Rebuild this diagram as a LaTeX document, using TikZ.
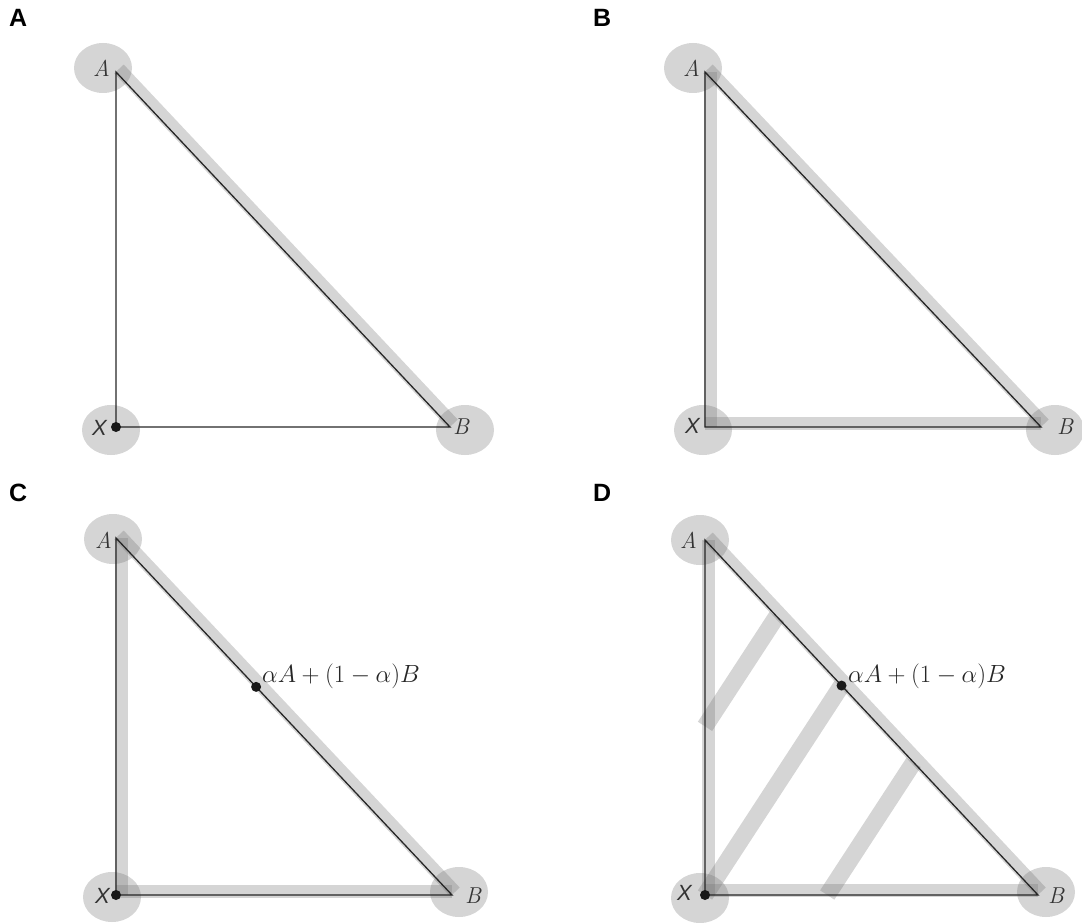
\documentclass[tikz,border=0pt]{standalone}
\usepackage{fontspec}
\setsansfont{Liberation Sans}
\usetikzlibrary{calc}
\begin{document}
\begin{tikzpicture}[x=1pt,y=-1pt,
  edge/.style={draw=black!85, line width=1.3pt},
  band/.style={draw=black!55, draw opacity=0.3, line width=13pt},
  wideband/.style={draw=black!55, draw opacity=0.3, line width=17pt},
  halo/.style={fill=black!55, fill opacity=0.3, draw=none},
  dot/.style={circle, fill=black!90, inner sep=0pt, minimum size=10pt},
  vlab/.style={font=\fontsize{23}{27}\selectfont\itshape, inner sep=0pt, text=black!80},
  mlab/.style={font=\fontsize{24.88}{29}\selectfont, inner sep=0pt, text=black!85, anchor=base west},
  xlab/.style={font=\fontsize{22}{26}\selectfont\sffamily\itshape, inner sep=0pt, text=black!80},
  plab/.style={font=\fontsize{25}{29}\selectfont\sffamily\bfseries, inner sep=0pt, anchor=base west},
]
\useasboundingbox (0,0) rectangle (1082,923);

% ---------- Panel A ----------
\node[plab] (labA) at (9,27) {A};
\coordinate (aA) at (116,72);
\coordinate (aX) at (116,427);
\coordinate (aB) at (450,427);
\fill[halo] (103,68) ellipse [x radius=29, y radius=25];
\fill[halo] (111,430) ellipse [x radius=29, y radius=25];
\fill[halo] (465,430) ellipse [x radius=29, y radius=25];
\draw[band] ([shift={(3,-3)}]aA) -- ([shift={(3,-3)}]aB);
\draw[edge] (aA) -- (aX) -- (aB) -- cycle;
\node[dot] (aXd) at (aX) {};
\node[vlab, anchor=base east] (aAl) at (110,77) {A};
\node[xlab, anchor=base east] (aXl) at (107,435) {X};
\node[vlab, anchor=base west] (aBl) at (453,434) {B};

% ---------- Panel B ----------
\node[plab] (labB) at (593,27) {B};
\coordinate (bA) at (705,72);
\coordinate (bX) at (705,427);
\coordinate (bB) at (1041,427);
\fill[halo] (693,68) ellipse [x radius=29, y radius=25];
\fill[halo] (703,430) ellipse [x radius=29, y radius=25];
\fill[halo] (1055,430) ellipse [x radius=29, y radius=25];
\draw[band] ([shift={(3,-3)}]bA) -- ([shift={(3,-3)}]bB);
\draw[band] ([shift={(5,0)}]bA) -- ([shift={(5,0)}]bX);
\draw[band] ([shift={(0,-4)}]bX) -- ([shift={(0,-4)}]bB);
\draw[edge] (bA) -- (bX) -- (bB) -- cycle;
\node[vlab, anchor=base east] (bAl) at (700,77) {A};
\node[xlab, anchor=base east] (bXl) at (700,433) {X};
\node[vlab, anchor=base west] (bBl) at (1057,434) {B};

% ---------- Panel C ----------
\node[plab] (labC) at (9,501) {C};
\coordinate (cA) at (116,538);
\coordinate (cX) at (116,895);
\coordinate (cB) at (452,895);
\coordinate (cP) at ($(cA)!0.417!(cB)$);
\fill[halo] (113,539) ellipse [x radius=29, y radius=25];
\fill[halo] (112,897) ellipse [x radius=29, y radius=25];
\fill[halo] (459,892) ellipse [x radius=29, y radius=25];
\draw[band] ([shift={(3,-3)}]cA) -- ([shift={(3,-3)}]cB);
\draw[band] ([shift={(5,0)}]cA) -- ([shift={(5,0)}]cX);
\draw[band] ([shift={(0,-4)}]cX) -- ([shift={(0,-4)}]cB);
\draw[edge] (cA) -- (cX) -- (cB) -- cycle;
\node[dot] (cXd) at (cX) {};
\node[dot] (cPd) at (cP) {};
\node[vlab, anchor=base east] (cAl) at (112,548) {A};
\node[xlab, anchor=base east] (cXl) at (110,903) {X};
\node[vlab, anchor=base west] (cBl) at (465,903) {B};
\node[mlab] (cPl) at (262,682) {$\alpha A + (1-\alpha)B$};

% ---------- Panel D ----------
\node[plab] (labD) at (593,501) {D};
\coordinate (dA) at (705,540);
\coordinate (dX) at (705,895);
\coordinate (dB) at (1038,895);
\coordinate (dP) at ($(dA)!0.41!(dB)$);
\fill[halo] (700,540) ellipse [x radius=29, y radius=25];
\fill[halo] (700,898) ellipse [x radius=29, y radius=25];
\fill[halo] (1046,892) ellipse [x radius=29, y radius=25];
\draw[band] ([shift={(3,-3)}]dA) -- ([shift={(3,-3)}]dB);
\draw[band] ([shift={(3,0)}]dA) -- ([shift={(3,0)}]dX);
\draw[band] ([shift={(0,-5)}]dX) -- ([shift={(0,-5)}]dB);
\draw[wideband] (dX) -- (dP);
\draw[wideband] ($(dA)!0.525!(dX)$) -- ($(dA)!0.525!(dP)$);
\draw[wideband] ($(dB)!0.633!(dX)$) -- ($(dB)!0.633!(dP)$);
\draw[edge] (dA) -- (dX) -- (dB) -- cycle;
\node[dot] (dXd) at (dX) {};
\node[dot] (dPd) at (dP) {};
\node[vlab, anchor=base east] (dAl) at (697,548) {A};
\node[xlab, anchor=base east] (dXl) at (692,900) {X};
\node[vlab, anchor=base west] (dBl) at (1048,903) {B};
\node[mlab] (dPl) at (848,682) {$\alpha A + (1-\alpha)B$};
\end{tikzpicture}
\end{document}
